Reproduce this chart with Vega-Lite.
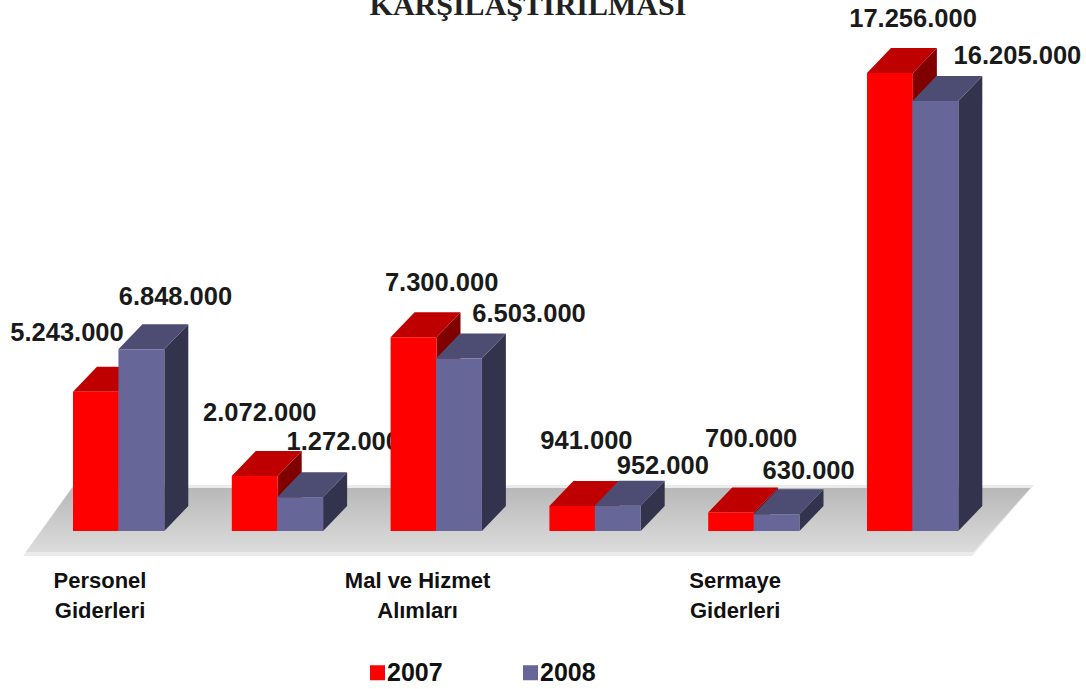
{"$schema":"https://vega.github.io/schema/vega-lite/v6.json","width":1086,"height":689,"padding":0,"autosize":{"type":"none"},"background":"white","config":{"view":{"stroke":null}},
"data":{"values":[
{"index":0,"series":"2007","value":5243000,"label":"5.243.000"},{"index":0,"series":"2008","value":6848000,"label":"6.848.000"},
{"index":1,"series":"2007","value":2072000,"label":"2.072.000"},{"index":1,"series":"2008","value":1272000,"label":"1.272.000"},
{"index":2,"series":"2007","value":7300000,"label":"7.300.000"},{"index":2,"series":"2008","value":6503000,"label":"6.503.000"},
{"index":3,"series":"2007","value":941000,"label":"941.000"},{"index":3,"series":"2008","value":952000,"label":"952.000"},
{"index":4,"series":"2007","value":700000,"label":"700.000"},{"index":4,"series":"2008","value":630000,"label":"630.000"},
{"index":5,"series":"2007","value":17256000,"label":"17.256.000"},{"index":5,"series":"2008","value":16205000,"label":"16.205.000"}]},
"transform":[{"calculate":"datum.index+(datum.series=='2008'?0.286:0)","as":"left"},{"calculate":"datum.left+0.289","as":"right"}],
"encoding":{"x":{"field":"X","type":"quantitative","axis":null,"scale":{"domain":[-0.4597,6.379],"nice":false,"zero":false}},"y":{"field":"Y","type":"quantitative","axis":null,"stack":null,"scale":{"domain":[-5952966,20006487],"nice":false,"zero":false}}},
"layer":[
{"data":{"values":[{"title":"KARŞILAŞTIRILMASI","X":2.865,"Y":19441000}]},"mark":{"type":"text","font":"Liberation Serif","fontSize":30,"fontWeight":"bold","color":"#222222","baseline":"alphabetic"},"encoding":{"text":{"field":"title"}}},
{"data":{"values":[{"Y":1733000,"X":0.003,"X2":6.052},{"Y":-942000,"X":-0.315,"X2":5.661}]},"mark":{"type":"area","orient":"horizontal","color":"#ebebeb"},"encoding":{"x2":{"field":"X2"}}},
{"data":{"values":[{"Y":1620000,"X":-0.006,"X2":6.03},{"Y":-791000,"X":-0.296,"X2":5.67}]},"mark":{"type":"area","orient":"horizontal","color":{"x1":0,"y1":0,"x2":0,"y2":1,"gradient":"linear","stops":[{"offset":0,"color":"#b8b8b8"},{"offset":1,"color":"#dcdcdc"}]}},"encoding":{"x2":{"field":"X2"}}},
{"data":{"values":[{"index":0,"label":"Personel\nGiderleri"},{"index":2,"label":"Mal ve Hizmet\nAlımları"},{"index":4,"label":"Sermaye\nGiderleri"}]},"transform":[{"calculate":"datum.index+0.17","as":"X"},{"calculate":"-1884000","as":"Y"}],"mark":{"type":"text","font":"Liberation Sans","fontWeight":"bold","fontSize":22,"color":"#111111","lineBreak":"\n","lineHeight":30,"baseline":"middle"},"encoding":{"text":{"field":"label"}}},
{"transform":[{"filter":"datum.value==5243000"},{"calculate":"datum.left","as":"X"},{"calculate":"datum.value","as":"Y"}],"mark":{"type":"text","font":"Liberation Sans","fontWeight":"bold","fontSize":25.5,"color":"#1a1a1a","baseline":"middle","dx":-6,"dy":-59},"encoding":{"text":{"field":"label"}}},
{"transform":[{"filter":"datum.value==6848000"},{"calculate":"datum.left","as":"X"},{"calculate":"datum.value","as":"Y"}],"mark":{"type":"text","font":"Liberation Sans","fontWeight":"bold","fontSize":25.5,"color":"#1a1a1a","baseline":"middle","dx":57,"dy":-52},"encoding":{"text":{"field":"label"}}},
{"transform":[{"filter":"datum.value==2072000"},{"calculate":"datum.left","as":"X"},{"calculate":"datum.value","as":"Y"}],"mark":{"type":"text","font":"Liberation Sans","fontWeight":"bold","fontSize":25.5,"color":"#1a1a1a","baseline":"middle","dx":28,"dy":-63},"encoding":{"text":{"field":"label"}}},
{"transform":[{"filter":"datum.value==1272000"},{"calculate":"datum.left","as":"X"},{"calculate":"datum.value","as":"Y"}],"mark":{"type":"text","font":"Liberation Sans","fontWeight":"bold","fontSize":25.5,"color":"#1a1a1a","baseline":"middle","dx":66,"dy":-55},"encoding":{"text":{"field":"label"}}},
{"transform":[{"filter":"datum.value==7300000"},{"calculate":"datum.left","as":"X"},{"calculate":"datum.value","as":"Y"}],"mark":{"type":"text","font":"Liberation Sans","fontWeight":"bold","fontSize":25.5,"color":"#1a1a1a","baseline":"middle","dx":51,"dy":-54},"encoding":{"text":{"field":"label"}}},
{"transform":[{"filter":"datum.value==6503000"},{"calculate":"datum.left","as":"X"},{"calculate":"datum.value","as":"Y"}],"mark":{"type":"text","font":"Liberation Sans","fontWeight":"bold","fontSize":25.5,"color":"#1a1a1a","baseline":"middle","dx":93,"dy":-44},"encoding":{"text":{"field":"label"}}},
{"transform":[{"filter":"datum.value==941000"},{"calculate":"datum.left","as":"X"},{"calculate":"datum.value","as":"Y"}],"mark":{"type":"text","font":"Liberation Sans","fontWeight":"bold","fontSize":25.5,"color":"#1a1a1a","baseline":"middle","dx":37,"dy":-65},"encoding":{"text":{"field":"label"}}},
{"transform":[{"filter":"datum.value==952000"},{"calculate":"datum.left","as":"X"},{"calculate":"datum.value","as":"Y"}],"mark":{"type":"text","font":"Liberation Sans","fontWeight":"bold","fontSize":25.5,"color":"#1a1a1a","baseline":"middle","dx":68,"dy":-40},"encoding":{"text":{"field":"label"}}},
{"transform":[{"filter":"datum.value==700000"},{"calculate":"datum.left","as":"X"},{"calculate":"datum.value","as":"Y"}],"mark":{"type":"text","font":"Liberation Sans","fontWeight":"bold","fontSize":25.5,"color":"#1a1a1a","baseline":"middle","dx":43,"dy":-73},"encoding":{"text":{"field":"label"}}},
{"transform":[{"filter":"datum.value==630000"},{"calculate":"datum.left","as":"X"},{"calculate":"datum.value","as":"Y"}],"mark":{"type":"text","font":"Liberation Sans","fontWeight":"bold","fontSize":25.5,"color":"#1a1a1a","baseline":"middle","dx":55,"dy":-43},"encoding":{"text":{"field":"label"}}},
{"transform":[{"filter":"datum.value==17256000"},{"calculate":"datum.left","as":"X"},{"calculate":"datum.value","as":"Y"}],"mark":{"type":"text","font":"Liberation Sans","fontWeight":"bold","fontSize":25.5,"color":"#1a1a1a","baseline":"middle","dx":46,"dy":-54},"encoding":{"text":{"field":"label"}}},
{"transform":[{"filter":"datum.value==16205000"},{"calculate":"datum.left","as":"X"},{"calculate":"datum.value","as":"Y"}],"mark":{"type":"text","font":"Liberation Sans","fontWeight":"bold","fontSize":25.5,"color":"#1a1a1a","baseline":"middle","dx":105,"dy":-45},"encoding":{"text":{"field":"label"}}},
{"transform":[{"filter":"datum.series=='2007'"},{"calculate":"[0,1]","as":"t"},{"flatten":["t"]},{"calculate":"datum.right+datum.t*0.151","as":"X"},{"calculate":"datum.value+datum.t*942000","as":"Y"},{"calculate":"datum.t*942000","as":"Y2"}],"mark":{"type":"area","color":"#800000"},"encoding":{"y2":{"field":"Y2"},"detail":{"field":"index"}}},
{"transform":[{"filter":"datum.series=='2007'"},{"calculate":"[0,1]","as":"t"},{"flatten":["t"]},{"calculate":"datum.left+datum.t*0.151","as":"X"},{"calculate":"datum.right+datum.t*0.151","as":"X2"},{"calculate":"datum.value+datum.t*942000","as":"Y"}],"mark":{"type":"area","orient":"horizontal","color":"#bf0000"},"encoding":{"x2":{"field":"X2"},"detail":{"field":"index"}}},
{"transform":[{"filter":"datum.series=='2007'"},{"calculate":"datum.left","as":"X"},{"calculate":"datum.value","as":"Y"}],"mark":{"type":"rect"},"encoding":{"x2":{"field":"right"},"y2":{"datum":0},"color":{"field":"series","type":"nominal","scale":{"domain":["2007","2008"],"range":["#ff0000","#666699"]},"legend":{"orient":"none","legendX":365,"legendY":660,"direction":"horizontal","columns":2,"title":null,"symbolType":"square","symbolSize":225,"symbolStrokeWidth":0,"symbolOpacity":1,"labelFont":"Liberation Sans","labelFontWeight":"bold","labelFontSize":25,"labelColor":"#111111","labelOffset":-3,"columnPadding":75}}}},
{"transform":[{"filter":"datum.series=='2008'"},{"calculate":"[0,1]","as":"t"},{"flatten":["t"]},{"calculate":"datum.right+datum.t*0.151","as":"X"},{"calculate":"datum.value+datum.t*942000","as":"Y"},{"calculate":"datum.t*942000","as":"Y2"}],"mark":{"type":"area","color":"#33334d"},"encoding":{"y2":{"field":"Y2"},"detail":{"field":"index"}}},
{"transform":[{"filter":"datum.series=='2008'"},{"calculate":"[0,1]","as":"t"},{"flatten":["t"]},{"calculate":"datum.left+datum.t*0.151","as":"X"},{"calculate":"datum.right+datum.t*0.151","as":"X2"},{"calculate":"datum.value+datum.t*942000","as":"Y"}],"mark":{"type":"area","orient":"horizontal","color":"#4d4d73"},"encoding":{"x2":{"field":"X2"},"detail":{"field":"index"}}},
{"transform":[{"filter":"datum.series=='2008'"},{"calculate":"datum.left","as":"X"},{"calculate":"datum.value","as":"Y"}],"mark":{"type":"rect"},"encoding":{"x2":{"field":"right"},"y2":{"datum":0},"color":{"field":"series","type":"nominal","scale":{"domain":["2007","2008"],"range":["#ff0000","#666699"]}}}}
]}
